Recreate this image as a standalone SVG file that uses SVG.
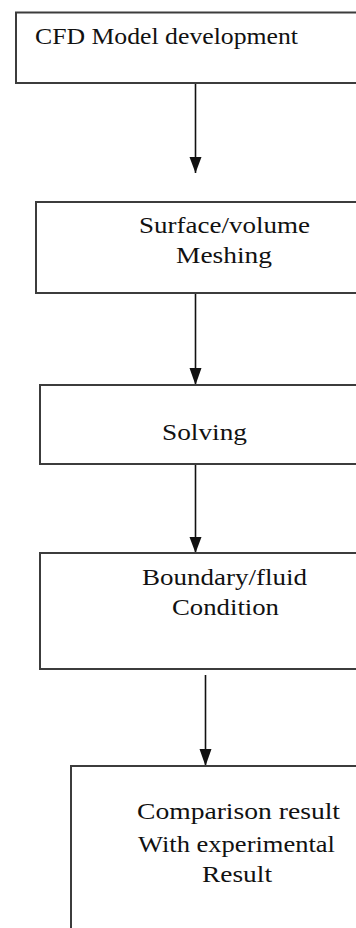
<svg xmlns="http://www.w3.org/2000/svg" width="356" height="928" viewBox="0 0 356 928">
<style>
.box{fill:#fff;stroke:#3c3c3c;stroke-width:2}
.t{font-family:"Liberation Serif","Times New Roman",serif;font-size:24px;fill:#111}
.c{stroke:#111;stroke-width:1.6;fill:none}
</style>
<defs>
<marker id="ah" viewBox="0 0 10 12" refX="5" refY="12" markerWidth="10" markerHeight="12" markerUnits="userSpaceOnUse" orient="auto-start-reverse">
<path d="M0,0 L10,0 L5,12 Z" fill="#111"/>
</marker>
</defs>
<rect width="356" height="928" fill="#fff"/>
<g id="connectors">
<line class="c" x1="195.5" y1="83" x2="195.5" y2="173"/>
<path d="M189.5,157 L201.5,157 L195.5,173 Z" fill="#111"/>
<line class="c" x1="195.5" y1="293" x2="195.5" y2="384"/>
<path d="M189.5,368 L201.5,368 L195.5,385 Z" fill="#111"/>
<line class="c" x1="195.5" y1="464" x2="195.5" y2="552"/>
<path d="M189.5,537 L201.5,537 L195.5,553 Z" fill="#111"/>
<line class="c" x1="205.5" y1="675" x2="205.5" y2="765"/>
<path d="M199.5,749 L211.5,749 L205.5,766 Z" fill="#111"/>
</g>
<g id="node1">
<rect class="box" x="16" y="12.5" width="360" height="70.5"/>
<text class="t" x="35" y="44" textLength="263" lengthAdjust="spacingAndGlyphs">CFD Model development</text>
</g>
<g id="node2">
<rect class="box" x="36" y="202" width="340" height="91"/>
<text class="t" x="139" y="233" textLength="171" lengthAdjust="spacingAndGlyphs">Surface/volume</text>
<text class="t" x="176" y="263" textLength="96" lengthAdjust="spacingAndGlyphs">Meshing</text>
</g>
<g id="node3">
<rect class="box" x="40" y="385" width="336" height="79"/>
<text class="t" x="162" y="440" textLength="85" lengthAdjust="spacingAndGlyphs">Solving</text>
</g>
<g id="node4">
<rect class="box" x="40" y="553" width="336" height="116"/>
<text class="t" x="142" y="585" textLength="165" lengthAdjust="spacingAndGlyphs">Boundary/fluid</text>
<text class="t" x="172" y="615" textLength="107" lengthAdjust="spacingAndGlyphs">Condition</text>
</g>
<g id="node5">
<rect class="box" x="71" y="766" width="320" height="200"/>
<text class="t" x="137" y="819" textLength="203" lengthAdjust="spacingAndGlyphs">Comparison result</text>
<text class="t" x="138" y="852" textLength="197" lengthAdjust="spacingAndGlyphs">With experimental</text>
<text class="t" x="202" y="882" textLength="70" lengthAdjust="spacingAndGlyphs">Result</text>
</g>
</svg>
